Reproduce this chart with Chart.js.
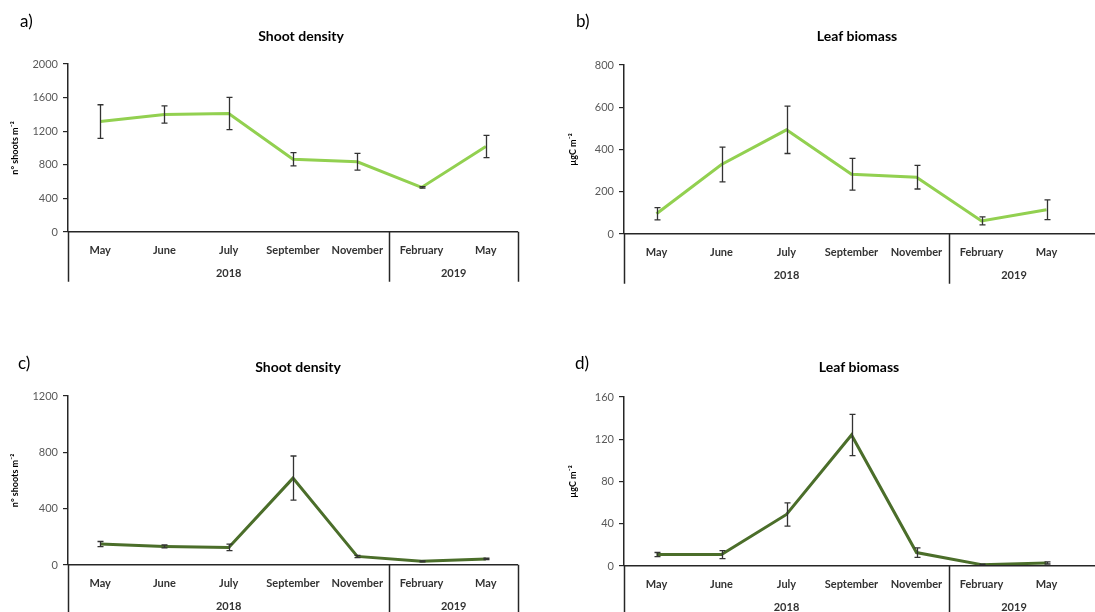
<!DOCTYPE html>
<html>
<head>
<meta charset="utf-8">
<script src="https://cdn.jsdelivr.net/npm/chart.js@4.4.0/dist/chart.umd.min.js"></script>
<style>
  body { margin: 0; background: #ffffff; }
  .wrap { position: relative; width: 1095px; height: 612px; overflow: hidden; }
  canvas { position: absolute; }
</style>
</head>
<body>
<div class="wrap">
  <canvas id="chartA" width="547" height="306" style="left:0px;top:0px"></canvas>
  <canvas id="chartB" width="548" height="306" style="left:547px;top:0px"></canvas>
  <canvas id="chartC" width="547" height="306" style="left:0px;top:306px"></canvas>
  <canvas id="chartD" width="548" height="306" style="left:547px;top:306px"></canvas>
</div>
<script>
// Sampling months and the years they belong to
var months = ['May', 'June', 'July', 'September', 'November', 'February', 'May'];
var years = ['2018', '2019'];
var monthsPerYear = [5, 2];

// Station 1 (light green)
var shootDensity1 = [1315, 1398, 1410, 867, 836, 531, 1018];
var shootDensity1Err = [200, 103, 192, 79, 99, 8, 133];
var leafBiomass1 = [96, 329, 493, 283, 269, 62, 115];
var leafBiomass1Err = [29, 82, 112, 75, 56, 19, 47];

// Station 2 (dark green)
var shootDensity2 = [149, 132, 125, 617, 61, 26, 43];
var shootDensity2Err = [18, 10, 23, 157, 8, 3, 5];
var leafBiomass2 = [10.8, 10.8, 48.8, 124, 12.7, 1.3, 2.9];
var leafBiomass2Err = [2, 3.8, 11, 19.5, 4.5, 0.5, 1];

var FONT = 'Lato, "Open Sans", sans-serif';
var AXIS = '#262626';

// error bars, panel titles, year row of the x axis
var decoPlugin = {
    id: 'deco',
    afterDatasetsDraw: function (chart) {
        var ctx = chart.ctx;
        var x = chart.scales.x, y = chart.scales.y;
        var ds = chart.data.datasets[0];
        ctx.save();
        ctx.strokeStyle = '#333333';
        ctx.lineWidth = 1.3;
        ds.data.forEach(function (v, i) {
            var e = ds.errors[i];
            var px = Math.round(x.getPixelForValue(i)) + 0.5;
            var top = y.getPixelForValue(v + e), bot = y.getPixelForValue(v - e);
            ctx.beginPath();
            ctx.moveTo(px, top); ctx.lineTo(px, bot);
            ctx.moveTo(px - 3, top); ctx.lineTo(px + 3, top);
            ctx.moveTo(px - 3, bot); ctx.lineTo(px + 3, bot);
            ctx.stroke();
        });
        ctx.restore();
    },
    afterDraw: function (chart) {
        var o = chart.options.plugins.deco;
        var ctx = chart.ctx;
        var area = chart.chartArea;
        var x = chart.scales.x;
        ctx.save();
        // panel letter
        ctx.fillStyle = '#000000';
        ctx.font = '17px ' + FONT;
        ctx.textAlign = 'left';
        ctx.textBaseline = 'middle';
        ctx.fillText(o.letter, o.letterX, o.letterY);
        // title
        ctx.font = 'bold 14px ' + FONT;
        ctx.textAlign = 'center';
        ctx.fillText(o.title, o.titleX, o.titleY);

        // x axis line, group lines and year labels
        ctx.strokeStyle = AXIS;
        ctx.lineWidth = 1.5;
        var bottom = Math.round(area.bottom - 0.75) + 0.75;
        ctx.beginPath();
        ctx.moveTo(area.left, bottom);
        ctx.lineTo(o.openRight ? chart.width : area.right, bottom);
        ctx.stroke();

        var half = (x.getPixelForValue(1) - x.getPixelForValue(0)) / 2;
        var start = 0;
        var edges = [area.left];
        ctx.font = 'bold 11px ' + FONT;
        ctx.fillStyle = '#333333';
        monthsPerYear.forEach(function (n, k) {
            var l = x.getPixelForValue(start) - half;
            var r = x.getPixelForValue(start + n - 1) + half;
            ctx.fillText(years[k], (l + r) / 2, bottom + 42);
            edges.push(r);
            start += n;
        });
        if (o.openRight) edges.pop();
        edges.forEach(function (ex) {
            ctx.beginPath();
            ctx.moveTo(Math.round(ex) + 0.5, bottom);
            ctx.lineTo(Math.round(ex) + 0.5, bottom + 50);
            ctx.stroke();
        });
        ctx.restore();
    }
};

function makePanel(id, values, errors, color, yMax, yStep, yTitle, lay, deco) {
    var ctx = document.getElementById(id).getContext('2d');
    return new Chart(ctx, {
        type: 'line',
        data: {
            labels: months,
            datasets: [{
                data: values,
                errors: errors,
                borderColor: color,
                borderWidth: 3,
                pointRadius: 0,
                tension: 0,
                fill: false
            }]
        },
        options: {
            responsive: false,
            animation: false,
            layout: { padding: { left: 0, top: lay.top, right: lay.right, bottom: 0 } },
            plugins: {
                legend: { display: false },
                tooltip: { enabled: false },
                deco: deco
            },
            scales: {
                x: {
                    offset: true,
                    grid: { display: false },
                    border: { display: false },
                    ticks: {
                        padding: 4,
                        color: '#333333',
                        maxRotation: 0,
                        autoSkip: false,
                        font: { family: FONT, size: 11, weight: 'bold' }
                    },
                    afterFit: function (s) { s.height = lay.xHeight; }
                },
                y: {
                    min: 0,
                    max: yMax,
                    grid: { display: true, drawOnChartArea: false, drawTicks: true, tickLength: 5, color: AXIS, lineWidth: 1.2 },
                    border: { display: true, color: AXIS, width: 1.5 },
                    ticks: {
                        stepSize: yStep,
                        padding: 5,
                        color: '#595959',
                        font: { family: FONT, size: 11 },
                        callback: function (v) { return String(v); }
                    },
                    title: {
                        display: true,
                        text: yTitle,
                        color: '#000000',
                        padding: { top: lay.titlePad, bottom: 0 },
                        font: { family: FONT, size: 9, weight: 'bold' }
                    },
                    afterFit: function (s) { s.width = lay.yWidth; }
                }
            }
        },
        plugins: [decoPlugin]
    });
}

makePanel('chartA', shootDensity1, shootDensity1Err, '#92D050', 2000, 400, 'n° shoots m⁻²',
    { top: 64, right: 29, xHeight: 74, yWidth: 68, titlePad: 10 },
    { letter: 'a)', letterX: 20, letterY: 22, title: 'Shoot density', titleX: 301, titleY: 36, openRight: false });

makePanel('chartB', leafBiomass1, leafBiomass1Err, '#92D050', 800, 200, 'µgC m⁻²',
    { top: 65, right: 16, xHeight: 72, yWidth: 77, titlePad: 21 },
    { letter: 'b)', letterX: 29, letterY: 22, title: 'Leaf biomass', titleX: 310, titleY: 36, openRight: true });

makePanel('chartC', shootDensity2, shootDensity2Err, '#4B6E2A', 1200, 400, 'n° shoots m⁻²',
    { top: 90, right: 29, xHeight: 47, yWidth: 68, titlePad: 10 },
    { letter: 'c)', letterX: 18, letterY: 58, title: 'Shoot density', titleX: 298, titleY: 61, openRight: false });

makePanel('chartD', leafBiomass2, leafBiomass2Err, '#4B6E2A', 160, 40, 'µgC m⁻²',
    { top: 91, right: 16, xHeight: 46, yWidth: 77, titlePad: 21 },
    { letter: 'd)', letterX: 28, letterY: 58, title: 'Leaf biomass', titleX: 312, titleY: 61, openRight: true });
</script>
</body>
</html>
